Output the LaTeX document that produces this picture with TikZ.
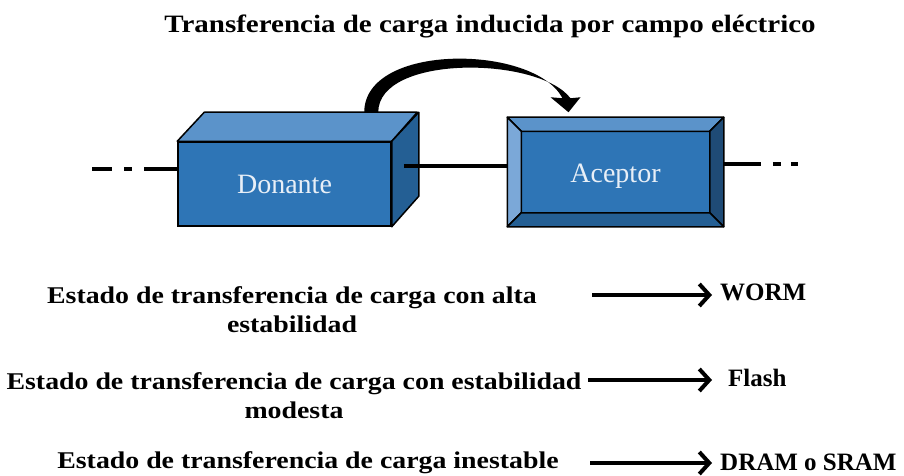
\documentclass[tikz,border=0pt]{standalone}
\usepackage{fontspec}
\setmainfont{Liberation Serif}
\newfontfamily\widefont[FakeStretch=1.16]{Liberation Serif}
\usetikzlibrary{arrows.meta, positioning, calc}
\definecolor{boxfront}{HTML}{2E75B6}
\definecolor{boxtop}{HTML}{5B93CA}
\definecolor{boxside}{HTML}{245F94}
\definecolor{bevlight}{HTML}{7BA8D8}
\definecolor{bevdark}{HTML}{1F4B76}
\definecolor{labeltext}{HTML}{E8EFF7}
\tikzset{
  box/.style={
    draw,
    line width=1.5pt,
    fill=boxfront,
    text=labeltext,
    inner sep=0pt,
    font=\fontsize{28}{30}\selectfont,
  },
  face/.style={
    draw,
    line width=1.5pt,
    line join=round
  },
  state/.style={
    align=center,
    font=\widefont\bfseries\fontsize{24}{29}\selectfont,
  },
  result/.style={
    anchor=west,
    inner sep=0pt,
    font=\bfseries\fontsize{25}{29}\selectfont,
  },
  link/.style={
    line width=4pt
  },
  arrow/.style={
    -{Straight Barb[length=10pt,width=22pt]},
    line width=4pt,
    shorten >=8pt
  }
}
\begin{document}
\begin{tikzpicture}[x=1pt, y=-1pt]
\useasboundingbox (0,0) rectangle (904,476);

% titulo
\node[font=\widefont\bfseries\fontsize{25}{29}\selectfont] (title) at (490,26) {Transferencia de carga inducida por campo eléctrico};

% Donante (caja 3D)
\node[box, minimum width=213pt, minimum height=84pt] (don) at (284.5,184) {Donante};
\filldraw[face, fill=boxtop] (don.north west) -- ++(27,-29) -- ++(213,0) -- (don.north east) -- cycle;
\filldraw[face, fill=boxside] (don.north east) -- ++(27,-29) -- ++(0,84) -- (don.south east) -- cycle;

% Aceptor (rectangulo biselado)
\node[box, minimum width=215pt, minimum height=108pt] (acc) at (615.5,172) {};
\coordinate (inw) at ($(acc.north west)+(14,14)$);
\coordinate (ine) at ($(acc.north east)+(-14,14)$);
\coordinate (ise) at ($(acc.south east)+(-14,-14)$);
\coordinate (isw) at ($(acc.south west)+(14,-14)$);
\filldraw[face, fill=boxtop] (acc.north west) -- (acc.north east) -- (ine) -- (inw) -- cycle;
\filldraw[face, fill=bevlight] (acc.north west) -- (inw) -- (isw) -- (acc.south west) -- cycle;
\filldraw[face, fill=bevdark] (acc.north east) -- (ine) -- (ise) -- (acc.south east) -- cycle;
\filldraw[face, fill=boxside] (acc.south west) -- (isw) -- (ise) -- (acc.south east) -- cycle;
\node[text=labeltext, font=\fontsize{28}{30}\selectfont] (acclabel) at ($(inw)!0.5!(ise)+(0,4)$) {Aceptor};

% cadena
\coordinate (chainl) at ($(don.west)+(-85,-15)$);
\coordinate (chainr) at ($(acc.east)+(74,-8)$);
\draw[link, dash pattern=on 20pt off 12pt on 8pt off 12pt on 40pt] (chainl) -- ($(don.west)+(0,-15)$);
\draw[link] ($(don.east)+(12,-18)$) -- ($(acc.west)+(0,-6)$);
\draw[link, dash pattern=on 37pt off 12pt on 8pt off 10pt on 7pt off 20pt] ($(acc.east)+(0,-8)$) -- (chainr);

% transferencia (flecha curva que se afina)
\coordinate (arcstart) at ($(don.north west)+(187,-29)$);
\coordinate (arcend) at ($(acc.north)+(-47,-5)$);
\fill (arcstart) .. controls ++(0,-70) and ($(arcend)+(-34,-68)$) .. ($(arcend)+(-6,-14)$)
  -- ($(arcend)+(-18,-15)$) -- (arcend) -- ($(arcend)+(12,-15)$) -- ($(arcend)+(2,-14)$)
  .. controls ($(arcend)+(-30,-56)$) and ($(arcstart)+(14,-58)$) .. ($(arcstart)+(14,0)$) -- cycle;

% estados
\node[state] (s1) at (292,310) {Estado de transferencia de carga con alta\\estabilidad};
\node[state] (s2) at (294,396) {Estado de transferencia de carga con estabilidad\\modesta};
\node[state] (s3) at (308,463) {Estado de transferencia de carga inestable};

\node[result] (worm) at (720,292) {WORM};
\node[result] (flash) at (728,378) {Flash};
\node[result] (dram) at (720,462) {DRAM o SRAM};

\coordinate (a1) at (592,295);
\coordinate (a2) at (588,380);
\coordinate (a3) at (590,463);
\draw[arrow] (a1) -- (a1 -| worm.west);
\draw[arrow, shorten >=16pt] (a2) -- (a2 -| flash.west);
\draw[arrow] (a3) -- (a3 -| dram.west);

\end{tikzpicture}
\end{document}
